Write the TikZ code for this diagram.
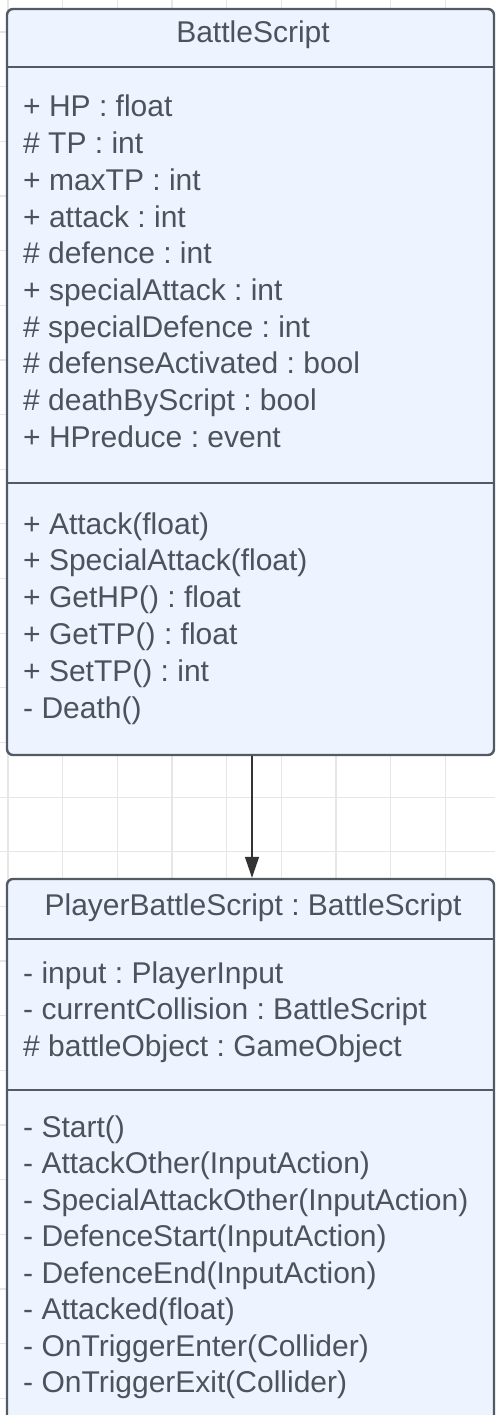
\documentclass[tikz,border=0pt]{standalone}
\usepackage{fontspec}
\setmainfont{Liberation Sans}
\frenchspacing
\usetikzlibrary{arrows.meta}
\definecolor{gridc}{HTML}{E6E6E6}
\definecolor{boxfill}{HTML}{EDF4FF}
\definecolor{boxline}{HTML}{535A63}
\definecolor{txtc}{HTML}{4D535B}
\definecolor{arrc}{HTML}{333333}
\tikzset{
  classbox/.style={draw=boxline, line width=2.4pt, fill=boxfill, rounded corners=6pt, inner sep=0pt},
  sepline/.style={draw=boxline, line width=2.4pt},
  txt/.style={anchor=base west, inner sep=0pt, text=txtc, font=\fontsize{30}{36}\selectfont},
  ttl/.style={anchor=base, inner sep=0pt, text=txtc, font=\fontsize{30}{36}\selectfont},
  inherit/.style={draw=arrc, line width=1.5pt, -{Triangle[length=21pt,width=14pt]}},
  gridline/.style={draw=gridc, line width=1.2pt}
}
\begin{document}
\begin{tikzpicture}[x=1pt,y=-1pt]
\useasboundingbox (0,0) rectangle (495,1415);
% grid
\foreach \gx in {0,...,9} {
  \draw[gridline] (8+54.65*\gx,0) -- (8+54.65*\gx,1415);
}
\foreach \gy in {0,...,25} {
  \draw[gridline] (0,32+54.65*\gy) -- (495,32+54.65*\gy);
}
% BattleScript box
\node[classbox, minimum width=487pt, minimum height=746pt] (bs) at (250.5,382) {};
\node[ttl] (bstitle) at (253,43) {BattleScript};
\draw[sepline] (bs.west |- 0,67) -- (bs.east |- 0,67);
\draw[sepline] (bs.west |- 0,483) -- (bs.east |- 0,483);
\foreach \t [count=\i] in {+ HP : float, \# TP : int, + maxTP : int, + attack : int, \# defence : int, + specialAttack : int, \# specialDefence : int, \# defenseActivated : bool, \# deathByScript : bool, + HPreduce : event} {
  \node[txt] (attr\i) at (23,117+36.7*\i-36.7) {\t};
}
\foreach \t [count=\i] in {+ Attack(float), + SpecialAttack(float), + GetHP() : float, + GetTP() : float, + SetTP() : int, - Death()} {
  \node[txt] (meth\i) at (23,534+36.8*\i-36.8) {\t};
}
% PlayerBattleScript box
\node[classbox, minimum width=487pt, minimum height=560pt] (pbs) at (250.5,1159) {};
\node[ttl] (pbstitle) at (253,915) {PlayerBattleScript : BattleScript};
\draw[sepline] (pbs.west |- 0,939) -- (pbs.east |- 0,939);
\draw[sepline] (pbs.west |- 0,1090) -- (pbs.east |- 0,1090);
\foreach \t [count=\i] in {- input : PlayerInput, - currentCollision : BattleScript, \# battleObject : GameObject} {
  \node[txt] (pattr\i) at (23,983+36.9*\i-36.9) {\t};
}
\foreach \t [count=\i] in {- Start(), - AttackOther(InputAction), - SpecialAttackOther(InputAction), - DefenceStart(InputAction), - DefenceEnd(InputAction), - Attacked(float), - OnTriggerEnter(Collider), - OnTriggerExit(Collider)} {
  \node[txt] (pmeth\i) at (23,1137+36.5*\i-36.5) {\t};
}
% inheritance arrow
\draw[inherit] ([xshift=1.5pt]bs.south) -- ([xshift=1.5pt]pbs.north);
\end{tikzpicture}
\end{document}
